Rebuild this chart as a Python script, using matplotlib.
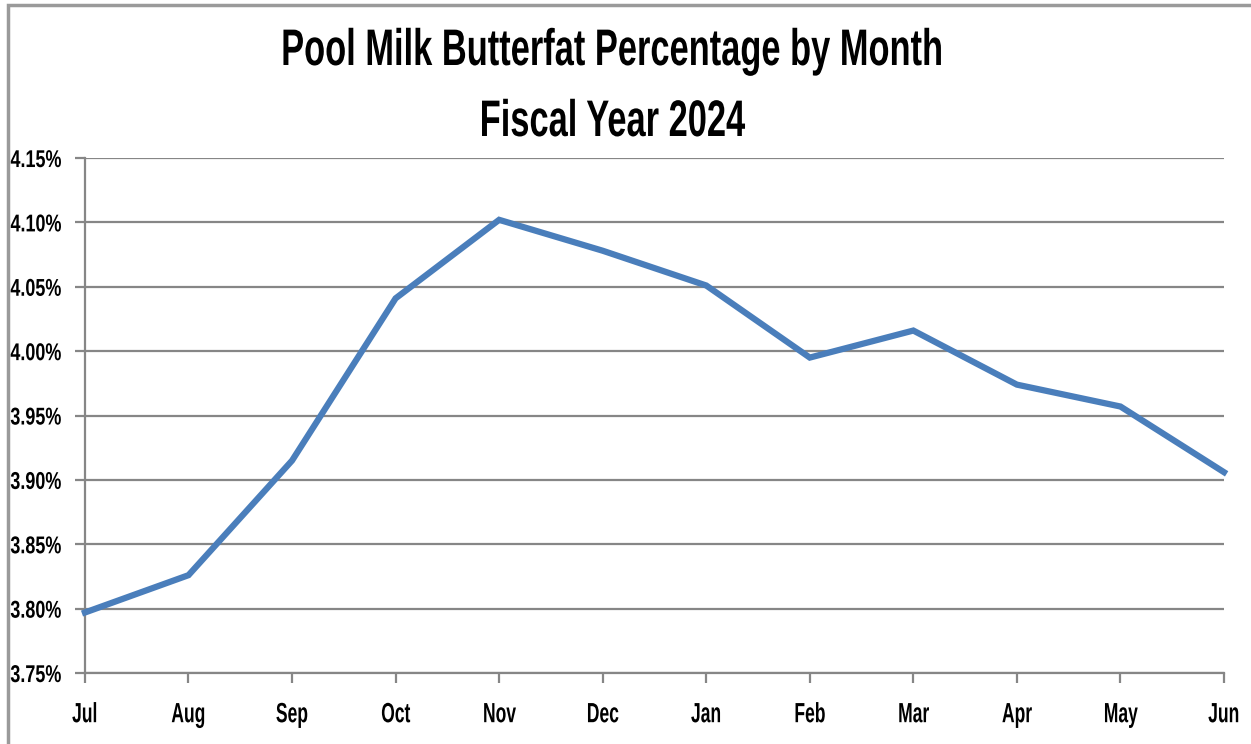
import matplotlib.pyplot as plt
from matplotlib.patches import Rectangle
from matplotlib.patheffects import AbstractPathEffect
from matplotlib.ticker import FuncFormatter
from matplotlib.transforms import Affine2D

months = ["Jul", "Aug", "Sep", "Oct", "Nov", "Dec", "Jan", "Feb", "Mar", "Apr", "May", "Jun"]
butterfat = [3.797, 3.826, 3.915, 4.041, 4.102, 4.078, 4.051, 3.995, 4.016, 3.974, 3.957, 3.906]


class Squeeze(AbstractPathEffect):
    """Draw text narrower, keeping one horizontal edge (or the centre) fixed."""

    def __init__(self, factor, anchor="center"):
        super().__init__()
        self.factor = factor
        self.anchor = anchor

    def draw_path(self, renderer, gc, tpath, affine, rgbFace=None):
        ext = tpath.get_extents(affine)
        x0 = {"left": ext.x0, "right": ext.x1}.get(self.anchor, (ext.x0 + ext.x1) / 2)
        squeezed = affine + Affine2D().translate(-x0, 0).scale(self.factor, 1).translate(x0, 0)
        renderer.draw_path(gc, tpath, squeezed, rgbFace)


font = ["Liberation Sans", "DejaVu Sans"]
plt.rcParams["font.family"] = font
plt.rcParams["font.weight"] = "bold"

fig = plt.figure(figsize=(12.51, 7.44), dpi=100)
ax = fig.add_axes([0.0679, 0.0954, 0.9105, 0.6922])

# outer chart border (only top/left edges visible)
fig.patches.append(Rectangle((8 / 1251, -0.1), 1.2, 1.1 - 5 / 744, transform=fig.transFigure,
                             fill=False, edgecolor="#9a9a9a", linewidth=2.5, zorder=0))

x = list(range(len(months)))
ax.plot(x, butterfat, color="#4a7ebb", linewidth=4.5, solid_joinstyle="miter", clip_on=False, zorder=3)

ax.set_xlim(0, len(months) - 1)
ax.set_ylim(3.75, 4.15)
ax.set_yticks([3.75 + 0.05 * i for i in range(9)])
ax.yaxis.set_major_formatter(FuncFormatter(lambda v, p: f"{v:.2f}%"))
ax.set_xticks(x, labels=months)

ax.grid(axis="y", color="#868686", linewidth=1.6)
ax.set_axisbelow(True)
for side in ["top", "right"]:
    ax.spines[side].set_visible(False)
for side in ["left", "bottom"]:
    ax.spines[side].set_color("#868686")
    ax.spines[side].set_linewidth(1.6)

ax.tick_params(axis="both", direction="out", length=7, width=1.6, color="#868686", labelcolor="black")
ax.tick_params(axis="x", labelsize=20, pad=14)
ax.tick_params(axis="y", labelsize=17.5, pad=10)
for lbl in ax.get_xticklabels():
    lbl.set_fontweight("bold")
    lbl.set_path_effects([Squeeze(0.63)])
for lbl in ax.get_yticklabels():
    lbl.set_fontweight("bold")
    lbl.set_path_effects([Squeeze(0.74, "right")])

for txt, yb in [("Pool Milk Butterfat Percentage by Month", 65), ("Fiscal Year 2024", 136)]:
    t = fig.text(0.489, 1 - yb / 744, txt, ha="center", va="baseline",
                 fontsize=37, fontweight="bold", family=font)
    t.set_path_effects([Squeeze(0.67)])

fig.savefig("out.png", dpi=100, facecolor="white")
